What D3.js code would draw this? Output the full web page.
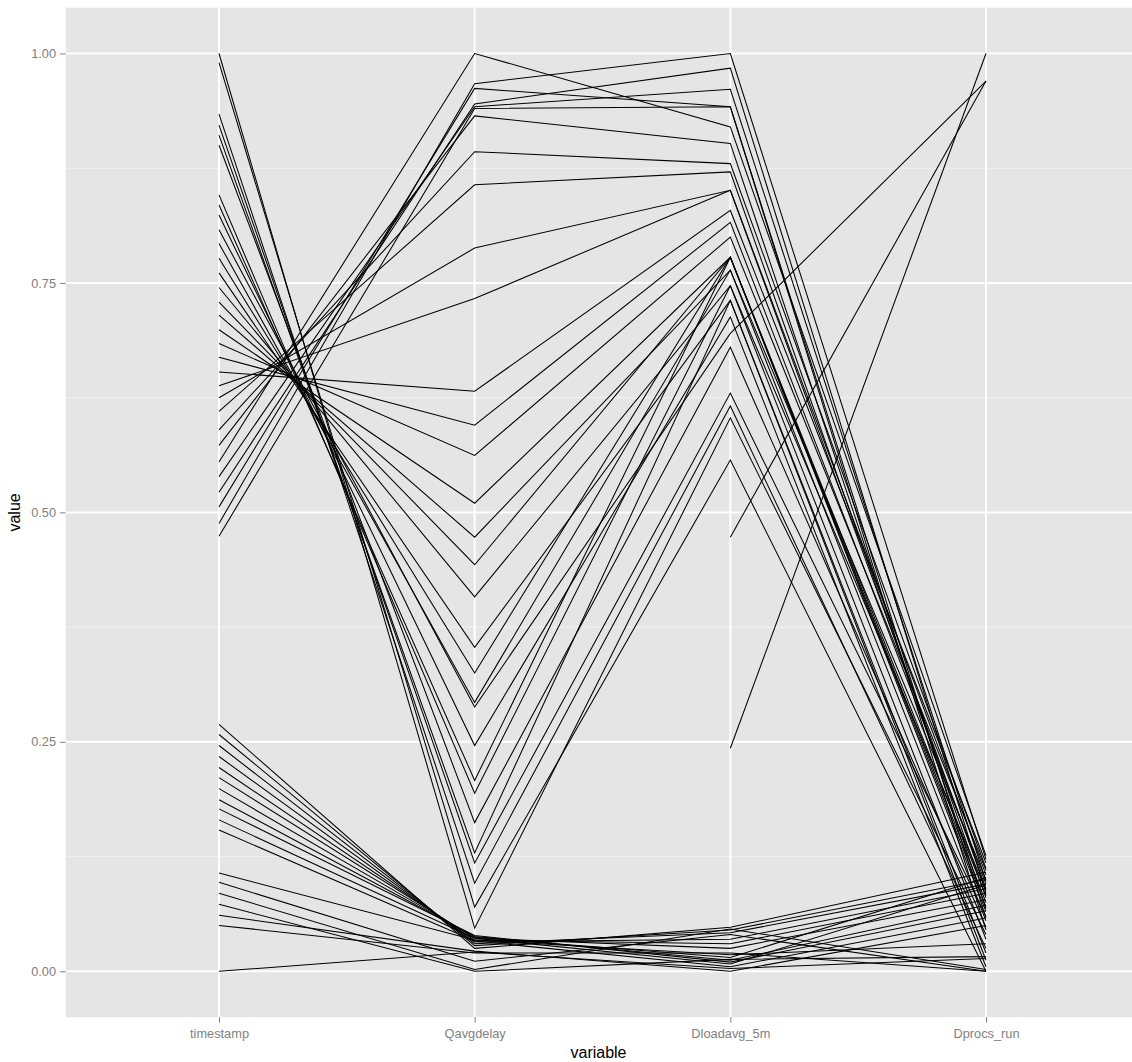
<!DOCTYPE html>
<html>
<head>
<meta charset="utf-8">
<script src="https://cdn.jsdelivr.net/npm/d3@7"></script>
<style>
  html, body { margin: 0; padding: 0; background: #ffffff; }
  svg { display: block; }
  text { font-family: "Liberation Sans", Arial, Helvetica, sans-serif; }
</style>
</head>
<body>
<svg id="chart" width="1132" height="1062"></svg>
<script>
// Variables shown as parallel axes
const variables = ["timestamp", "Qavgdelay", "Dloadavg_5m", "Dprocs_run"];

// Scaled values of each observation, one array per variable (null = missing)
const timestamp = [
  1.000, 0.990, 0.934, 0.922, 0.911, 0.900,
  0.846, 0.835, 0.824, 0.808, 0.793, 0.777, 0.761, 0.745, 0.729, 0.715, 0.699, 0.684, 0.669, 0.653,
  0.638, 0.625, 0.610, 0.590, 0.573, 0.555, 0.539, 0.522, 0.506, 0.488, 0.474,
  0.269, 0.258, 0.246, 0.234, 0.222, 0.211, 0.199, 0.187, 0.177, 0.165, 0.154,
  0.107, 0.097, 0.085, 0.073, 0.061, 0.050, 0.000,
  null, null
];
const qavgdelay = [
  0.047, 0.070, 0.096, 0.118, 0.129, 0.162,
  0.194, 0.208, 0.246, 0.288, 0.293, 0.325, 0.353, 0.408, 0.443, 0.473, 0.510, 0.562, 0.595, 0.632,
  0.733, 0.788, 0.857, 0.893, 0.932, 1.000, 0.942, 0.945, 0.962, 0.967, 0.940,
  0.025, 0.028, 0.030, 0.032, 0.034, 0.036, 0.037, 0.038, 0.039, 0.036, 0.033,
  0.034, 0.011, 0.002, 0.000, 0.022, 0.020, 0.021,
  null, null
];
const dloadavg5m = [
  0.603, 0.557, 0.616, 0.630, 0.731, 0.680,
  0.747, 0.778, 0.713, 0.695, 0.764, 0.778, 0.731, 0.747, 0.778, 0.764, 0.778, 0.800, 0.816, 0.829,
  0.851, 0.851, 0.871, 0.880, 0.902, 0.920, 0.961, 0.984, 0.942, 1.000, 0.942,
  0.048, 0.045, 0.042, 0.035, 0.030, 0.025, 0.015, 0.012, 0.010, 0.008, 0.005,
  0.018, 0.040, 0.046, 0.013, 0.000, 0.020, 0.003,
  0.473, 0.243
];
const dprocsRun = [
  0.040, 0.000, 0.025, 0.060, 0.012, 0.048,
  0.035, 0.070, 0.005, 0.970, 0.055, 0.082, 0.020, 0.088, 0.065, 0.100, 0.075, 0.110, 0.095, 0.118,
  0.105, 0.090, 0.080, 0.112, 0.068, 0.126, 0.098, 0.085, 0.058, 0.122, 0.045,
  0.108, 0.100, 0.095, 0.090, 0.085, 0.078, 0.102, 0.072, 0.066, 0.094, 0.058,
  0.030, 0.000, 0.002, 0.016, 0.050, 0.000, 0.014,
  0.970, 1.000
];

const yMajor = [0, 0.25, 0.5, 0.75, 1];
const yMinor = [0.125, 0.375, 0.625, 0.875];
const yTickLabels = ["0.00", "0.25", "0.50", "0.75", "1.00"];

const columns = [timestamp, qavgdelay, dloadavg5m, dprocsRun];
const series = timestamp.map((_, i) =>
  variables.map((v, j) => ({ variable: v, value: columns[j][i] }))
);

// Panel geometry
const panel = { left: 65.6, right: 1139.4, top: 7.6, bottom: 1017.2 };

const svg = d3.select("#chart");

const x = d3.scalePoint()
  .domain(variables)
  .range([panel.left, panel.right])
  .padding(0.6);

const y = d3.scaleLinear()
  .domain([-0.05, 1.05])
  .range([panel.bottom, panel.top]);

// Panel background
svg.append("rect")
  .attr("x", panel.left)
  .attr("y", panel.top)
  .attr("width", panel.right - panel.left)
  .attr("height", panel.bottom - panel.top)
  .attr("fill", "#E5E5E5");

const grid = svg.append("g");

// Minor horizontal grid
grid.selectAll("line.minor")
  .data(yMinor)
  .join("line")
  .attr("class", "minor")
  .attr("x1", panel.left).attr("x2", panel.right)
  .attr("y1", d => y(d)).attr("y2", d => y(d))
  .attr("stroke", "#F2F2F2")
  .attr("stroke-width", 1);

// Major horizontal grid
grid.selectAll("line.majorY")
  .data(yMajor)
  .join("line")
  .attr("class", "majorY")
  .attr("x1", panel.left).attr("x2", panel.right)
  .attr("y1", d => y(d)).attr("y2", d => y(d))
  .attr("stroke", "#FFFFFF")
  .attr("stroke-width", 2);

// Vertical grid at each variable
grid.selectAll("line.majorX")
  .data(variables)
  .join("line")
  .attr("class", "majorX")
  .attr("x1", d => x(d)).attr("x2", d => x(d))
  .attr("y1", panel.top).attr("y2", panel.bottom)
  .attr("stroke", "#FFFFFF")
  .attr("stroke-width", 2);

// Observation lines
const line = d3.line()
  .defined(d => d.value !== null)
  .x(d => x(d.variable))
  .y(d => y(d.value));

svg.append("g")
  .selectAll("path")
  .data(series)
  .join("path")
  .attr("d", line)
  .attr("fill", "none")
  .attr("stroke", "#000000")
  .attr("stroke-width", 1.05);

// Y axis
const yAxis = d3.axisLeft(y)
  .tickValues(yMajor)
  .tickFormat((d, i) => yTickLabels[i])
  .tickSize(5.5)
  .tickPadding(4);

const gy = svg.append("g")
  .attr("transform", `translate(${panel.left},0)`)
  .call(yAxis);
gy.select(".domain").remove();
gy.selectAll(".tick line").attr("stroke", "#7F7F7F").attr("stroke-width", 1);
gy.selectAll(".tick text")
  .attr("fill", "#7F7F7F")
  .attr("font-size", "12.8px")
  .attr("font-family", "'Liberation Sans', Arial, sans-serif");

// X axis
const xAxis = d3.axisBottom(x)
  .tickSize(5.5)
  .tickPadding(6);

const gx = svg.append("g")
  .attr("transform", `translate(0,${panel.bottom})`)
  .call(xAxis);
gx.select(".domain").remove();
gx.selectAll(".tick line").attr("stroke", "#7F7F7F").attr("stroke-width", 1);
gx.selectAll(".tick text")
  .attr("fill", "#7F7F7F")
  .attr("font-size", "12.8px")
  .attr("font-family", "'Liberation Sans', Arial, sans-serif");

// Axis titles
svg.append("text")
  .attr("x", (panel.left + panel.right) / 2 - 4)
  .attr("y", 1058)
  .attr("text-anchor", "middle")
  .attr("font-size", "16px")
  .attr("fill", "#000000")
  .text("variable");

svg.append("text")
  .attr("transform", `translate(20,${(panel.top + panel.bottom) / 2}) rotate(-90)`)
  .attr("text-anchor", "middle")
  .attr("font-size", "16px")
  .attr("fill", "#000000")
  .text("value");
</script>
</body>
</html>
